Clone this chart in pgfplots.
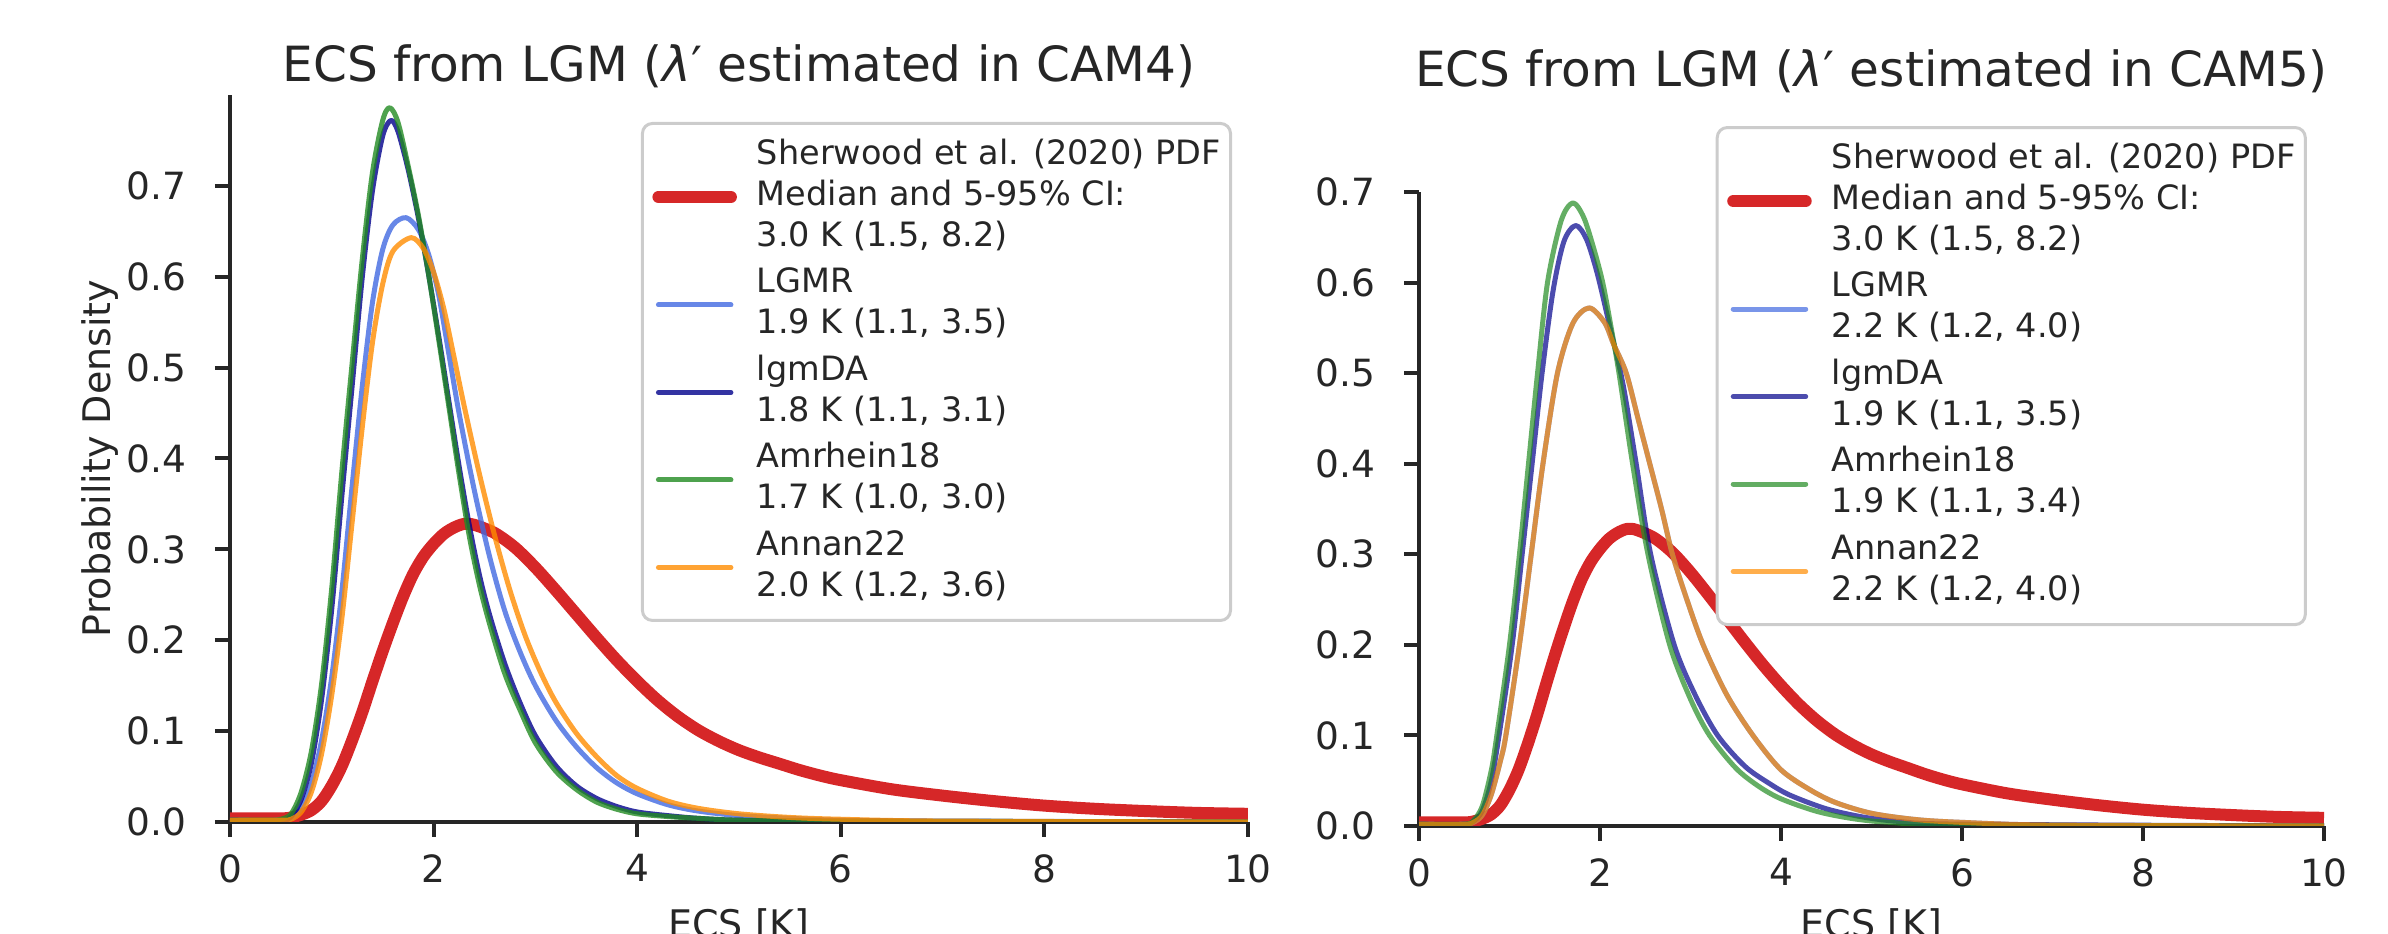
\documentclass[border=0pt]{standalone}
\usepackage{fontspec}
\setmainfont{DejaVu Sans}
\usepackage{pgfplots}
\usepackage{pgfplotstable}
\pgfplotsset{compat=1.18}

\definecolor{txt}{HTML}{262626}
\definecolor{sherred}{HTML}{D62728}
\definecolor{royal}{HTML}{4169E1}
\definecolor{dblue}{HTML}{00008B}
\definecolor{fgreen}{HTML}{228B22}
\definecolor{dorange}{HTML}{FF8C00}
\definecolor{legedge}{HTML}{CCCCCC}

\newcommand{\two}[2]{\begin{tabular}{@{}l@{}}#1\\#2\end{tabular}}
\newcommand{\sherlabel}{\begin{tabular}{@{}l@{}}Sherwood et al. (2020) PDF\\Median and 5-95\% CI:\\3.0 K (1.5, 8.2)\end{tabular}}

% Sherwood et al. (2020) PDF, same in both panels
\pgfplotstableread{
x y
0 0.004
0.5 0.004
0.6 0.005
0.7 0.008
0.8 0.013
0.9 0.023
1.0 0.040
1.1 0.062
1.2 0.090
1.3 0.121
1.4 0.155
1.5 0.188
1.6 0.219
1.7 0.248
1.8 0.273
1.9 0.292
2.0 0.306
2.1 0.317
2.2 0.324
2.3 0.328
2.4 0.327
2.6 0.318
2.8 0.302
3.0 0.280
3.2 0.255
3.4 0.229
3.6 0.203
3.8 0.178
4.0 0.155
4.2 0.134
4.4 0.116
4.6 0.101
4.8 0.089
5.0 0.079
5.2 0.071
5.4 0.064
5.6 0.057
5.8 0.051
6.0 0.046
6.5 0.036
7.0 0.029
7.5 0.023
8.0 0.018
8.5 0.0145
9.0 0.012
9.5 0.010
10 0.009
}\sherwood

% left panel (CAM4)
\pgfplotstableread{
x y
0 0.002
0.5 0.002
0.6 0.004
0.7 0.015
0.8 0.042
0.9 0.090
1.0 0.160
1.1 0.255
1.2 0.370
1.3 0.480
1.4 0.572
1.5 0.630
1.6 0.657
1.73 0.665
1.85 0.652
1.95 0.625
2.05 0.580
2.15 0.515
2.25 0.450
2.4 0.365
2.55 0.292
2.7 0.232
2.85 0.187
3.0 0.150
3.2 0.112
3.4 0.083
3.6 0.060
3.8 0.043
4.0 0.031
4.3 0.019
4.6 0.012
5.0 0.007
5.5 0.004
6.0 0.002
7.0 0.001
10 0.000
}\lgmrA

\pgfplotstableread{
x y
0 0.002
0.5 0.002
0.6 0.006
0.7 0.025
0.8 0.065
0.9 0.135
1.0 0.235
1.1 0.360
1.2 0.480
1.3 0.600
1.4 0.695
1.5 0.755
1.58 0.772
1.65 0.760
1.75 0.718
1.85 0.665
1.95 0.603
2.05 0.535
2.15 0.463
2.25 0.392
2.35 0.327
2.45 0.272
2.55 0.228
2.7 0.174
2.85 0.131
3.0 0.095
3.2 0.062
3.4 0.040
3.6 0.026
3.8 0.017
4.0 0.011
4.3 0.007
4.6 0.004
5.0 0.002
6.0 0.001
10 0.000
}\lgmdaA

\pgfplotstableread{
x y
0 0.002
0.4 0.002
0.5 0.003
0.6 0.009
0.7 0.033
0.8 0.078
0.9 0.152
1.0 0.258
1.1 0.387
1.2 0.505
1.3 0.620
1.4 0.715
1.5 0.772
1.57 0.786
1.65 0.770
1.75 0.722
1.85 0.668
1.95 0.603
2.05 0.531
2.15 0.457
2.25 0.383
2.35 0.315
2.45 0.261
2.55 0.218
2.7 0.163
2.85 0.123
3.0 0.087
3.2 0.056
3.4 0.036
3.6 0.022
3.8 0.014
4.0 0.009
4.3 0.006
4.6 0.004
5.0 0.002
6.0 0.001
10 0.000
}\amrA

\pgfplotstableread{
x y
0 0.002
0.5 0.002
0.6 0.003
0.7 0.011
0.8 0.033
0.9 0.075
1.0 0.140
1.1 0.225
1.2 0.330
1.3 0.435
1.4 0.528
1.5 0.592
1.6 0.628
1.78 0.643
1.9 0.631
2.0 0.605
2.1 0.565
2.2 0.512
2.3 0.458
2.45 0.383
2.6 0.315
2.75 0.255
2.9 0.205
3.05 0.165
3.2 0.132
3.4 0.098
3.6 0.072
3.8 0.051
4.0 0.037
4.3 0.023
4.6 0.015
5.0 0.009
5.5 0.005
6.0 0.003
7.0 0.001
10 0.000
}\annanA

% right panel (CAM5); LGMR and Annan22 coincide
\pgfplotstableread{
x y
0 0.002
0.5 0.002
0.6 0.004
0.7 0.012
0.8 0.035
0.9 0.072
0.96 0.100
1.11 0.200
1.24 0.300
1.37 0.400
1.53 0.500
1.7 0.555
1.88 0.572
2.05 0.556
2.15 0.532
2.29 0.500
2.42 0.450
2.55 0.400
2.68 0.350
2.8 0.300
2.96 0.250
3.14 0.200
3.4 0.145
3.69 0.100
4.0 0.062
4.32 0.040
4.6 0.026
5.0 0.014
5.5 0.007
6.0 0.004
7.0 0.001
10 0.000
}\lgmrB

\pgfplotstableread{
x y
0 0.002
0.5 0.002
0.6 0.005
0.7 0.017
0.8 0.050
0.9 0.110
1.03 0.200
1.14 0.300
1.25 0.400
1.36 0.500
1.48 0.590
1.6 0.645
1.73 0.663
1.85 0.648
1.97 0.610
2.1 0.555
2.25 0.490
2.4 0.400
2.56 0.300
2.82 0.200
3.05 0.145
3.3 0.100
3.6 0.066
3.87 0.047
4.1 0.034
4.5 0.019
4.9 0.010
5.3 0.005
6.0 0.002
10 0.000
}\lgmdaB

\pgfplotstableread{
x y
0 0.002
0.5 0.002
0.6 0.006
0.7 0.022
0.8 0.062
0.86 0.100
1.0 0.200
1.11 0.300
1.21 0.400
1.31 0.500
1.42 0.600
1.57 0.668
1.70 0.688
1.82 0.672
1.93 0.638
2.03 0.600
2.12 0.552
2.21 0.500
2.36 0.400
2.53 0.300
2.77 0.200
3.0 0.140
3.21 0.100
3.5 0.064
3.75 0.044
4.0 0.030
4.4 0.016
4.8 0.008
5.2 0.004
6.0 0.001
10 0.000
}\amrB

\pgfplotsset{
  ecs/.style={
    scale only axis,
    axis x line*=bottom, axis y line*=left,
    axis line style={txt, line width=0.8pt},
    tick align=outside, major tick length=3pt,
    tick style={txt, line width=0.8pt},
    xmin=0, xmax=10, xtick={0,2,4,6,8,10}, ymin=0,
    ytick={0,0.1,0.2,0.3,0.4,0.5,0.6,0.7},
    yticklabel style={xshift=-2.2pt, /pgf/number format/.cd, fixed, fixed zerofill, precision=1},
    /pgf/number format/assume math mode=true,
    tick label style={font=\fontsize{7.5}{9}\selectfont, text=txt},
    label style={font=\fontsize{7.6}{9}\selectfont, text=txt},
    title style={font=\fontsize{9.7}{11}\selectfont, text=txt, at={(0.5,1)}, anchor=base},
    xlabel={ECS [K]},
    legend cell align=left,
    legend style={font=\fontsize{6.7}{8.2}\selectfont, text=txt, draw=legedge,
      line width=0.6pt, rounded corners=2pt, fill=white,
      inner xsep=2pt, inner ysep=2.4pt, row sep=1.1pt,
      column sep=4pt, anchor=north east, nodes={inner sep=0pt, text depth=}},
    legend image code/.code={\draw[##1, line cap=round] (0pt,0pt) -- (14.5pt,0pt);},
    every axis plot/.append style={smooth, line join=round},
  },
}

\begin{document}
\begin{tikzpicture}
% page frame; the x labels hang below it and are cut off, as in the original
\path (0,0) rectangle (477.6pt,186.8pt);

\begin{axis}[ecs,
    at={(46pt,22.4pt)}, anchor=south west,
    width=203.6pt, height=145.4pt, ymax=0.8,
    title={ECS from LGM ({\itshape λ}′ estimated in CAM4)},
    title style={yshift=-3.4pt},
    xlabel style={overlay, at={(axis description cs:0.5,0)}, anchor=base, yshift=-23.1pt},
    ylabel={Probability Density},
    ylabel style={at={(axis description cs:-0.1277,0.5)}, anchor=center},
    legend style={at={(0.9843,0.9629)}},
]
\addplot[sherred, line width=2.4pt] table {\sherwood};
\addlegendentry{\sherlabel}
\addplot[royal, draw opacity=0.8, line width=1pt] table {\lgmrA};
\addlegendentry{\two{LGMR}{1.9 K (1.1, 3.5)}}
\addplot[dblue, draw opacity=0.8, line width=1pt] table {\lgmdaA};
\addlegendentry{\two{lgmDA}{1.8 K (1.1, 3.1)}}
\addplot[fgreen, draw opacity=0.8, line width=1pt] table {\amrA};
\addlegendentry{\two{Amrhein18}{1.7 K (1.0, 3.0)}}
\addplot[dorange, draw opacity=0.8, line width=1pt] table {\annanA};
\addlegendentry{\two{Annan22}{2.0 K (1.2, 3.6)}}
\end{axis}

\begin{axis}[ecs,
    at={(283.8pt,21.6pt)}, anchor=south west,
    width=181pt, height=126.8pt, ymax=0.7,
    title={ECS from LGM ({\itshape λ}′ estimated in CAM5)},
    title style={yshift=15.2pt},
    xlabel style={overlay, at={(axis description cs:0.5,0)}, anchor=base, yshift=-22.3pt},
    legend style={at={(0.981,1.104)}},
]
\addplot[sherred, line width=2.4pt] table {\sherwood};
\addlegendentry{\sherlabel}
\addplot[royal, draw opacity=0.7, line width=1pt] table {\lgmrB};
\addlegendentry{\two{LGMR}{2.2 K (1.2, 4.0)}}
\addplot[dblue, draw opacity=0.7, line width=1pt] table {\lgmdaB};
\addlegendentry{\two{lgmDA}{1.9 K (1.1, 3.5)}}
\addplot[fgreen, draw opacity=0.7, line width=1pt] table {\amrB};
\addlegendentry{\two{Amrhein18}{1.9 K (1.1, 3.4)}}
\addplot[dorange, draw opacity=0.7, line width=1pt] table {\lgmrB};
\addlegendentry{\two{Annan22}{2.2 K (1.2, 4.0)}}
\end{axis}
\end{tikzpicture}
\end{document}
